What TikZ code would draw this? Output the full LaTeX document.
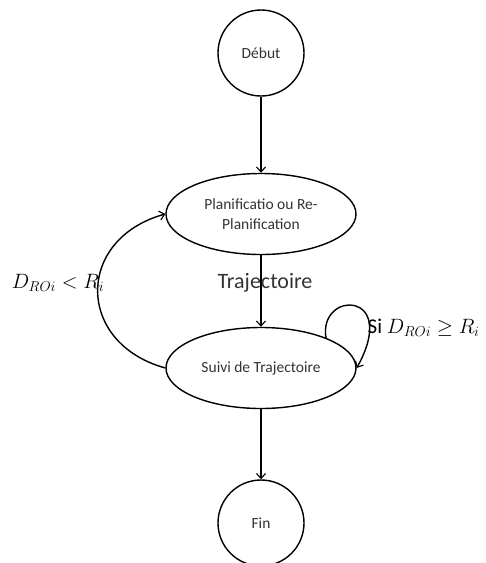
\documentclass[tikz,border=0pt]{standalone}
\usepackage{fontspec}
\setmainfont{Carlito}
\usetikzlibrary{shapes.geometric,arrows.meta,calc}
\begin{document}
\begin{tikzpicture}[x=1pt,y=-1pt,
  line width=1.4pt,
  every node/.style={inner sep=0pt, text=black!80},
  state/.style={circle, draw, minimum size=86pt, font=\fontsize{15.5}{18}\selectfont},
  phase/.style={ellipse, draw, minimum width=190pt, minimum height=81pt, align=center, font=\fontsize{15.5}{20}\selectfont},
  flow/.style={-{Straight Barb[length=5pt,width=9pt,line width=1.1pt]}},
  cond/.style={font=\fontsize{21}{24}\selectfont, text=black}
]
\useasboundingbox (0,0) rectangle (486,563);

% states of the planner
\node[state] (debut) at (261,53) {Début};
\node[phase] (plan) at (261,214) {Planificatio ou Re-\\Planification};
\node[phase] (suivi) at (261,368) {Suivi de Trajectoire};
\node[state] (fin) at (261,523) {Fin};

% main sequence
\draw[flow] (debut) -- (plan);
\draw[flow] (plan) -- (suivi);
\node[font=\fontsize{22}{26}\selectfont] (traj) at (265,283) {Trajectoire};
\draw[flow] (suivi) -- (fin);

% replanning when the robot gets too close
\draw[flow] (suivi.west) .. controls +(-90,-25) and +(-90,25) .. (plan.west);
\node[cond] (cin) at (58,283) {$D_{ROi} < R_i$};

% keep tracking otherwise
\coordinate (loopstart) at ($(suivi.center)+(65,-30)$);
\draw[flow] (loopstart) .. controls (318,290) and (400,290) .. (suivi.east);
\node[cond, anchor=west] (cge) at (367,328) {Si $D_{ROi} \geq R_i$};
\end{tikzpicture}
\end{document}
